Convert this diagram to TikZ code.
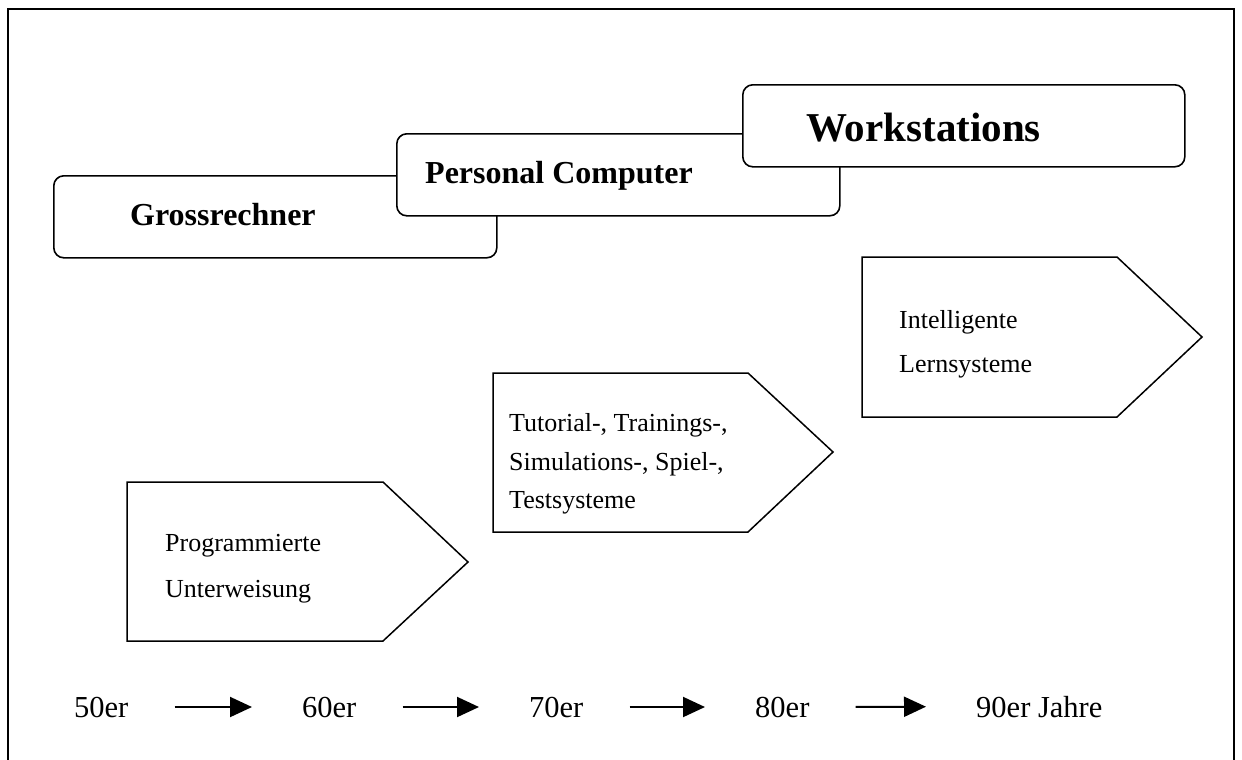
\documentclass[tikz,border=0pt]{standalone}
\usepackage{fontspec}
\setmainfont{Liberation Serif}
\usetikzlibrary{arrows.meta}

\begin{document}
\begin{tikzpicture}[
		x=1pt, y=-1pt,
		every node/.style={inner sep=0pt, anchor=base west},
		erabox/.style={draw, line width=1.6pt, rounded corners=10pt, fill=white,
			minimum width=443pt, minimum height=82pt, anchor=north west},
		era/.style={font=\fontsize{32}{38}\selectfont\bfseries},
		stepshape/.style={draw, line width=1.5pt, line join=miter},
		body/.style={font=\fontsize{26}{31}\selectfont},
		year/.style={font=\fontsize{30.5}{36}\selectfont},
		timearrow/.style={line width=2pt, -{Triangle[length=22pt, width=20pt]},
			shorten <=46pt, shorten >=50pt}
	]
  \useasboundingbox (0,0) rectangle (1242,760);
  \clip (0,0) rectangle (1242,760);
  \draw [line width=2pt] (8,9) rectangle (1234,800);

  % hardware
  \node (gross) [erabox] at (53,175) {};
  \node (gross_label) [era] at (130,225) {Grossrechner};
  \node (pc) [erabox] at (396,133) {};
  \node (pc_label) [era] at (425,183) {Personal Computer};
  \node (ws) [erabox, minimum width=442pt] at (742,84) {};
  \node (ws_label) [era, font=\fontsize{41}{48}\selectfont\bfseries] at (806,141) {Workstations};

  % software
  \draw [stepshape] (127,482) -- (383,482) -- (468,562) -- (383,641) -- (127,641) -- cycle;
  \node (prog_a) [body] at (165,551) {Programmierte};
  \node (prog_b) [body] at (165,597) {Unterweisung};
  \draw [stepshape] (493,373) -- (748,373) -- (833,452) -- (748,532) -- (493,532) -- cycle;
  \node (tut_a) [body] at (509,431) {Tutorial-, Trainings-,};
  \node (tut_b) [body] at (509,470) {Simulations-, Spiel-,};
  \node (tut_c) [body] at (509,508) {Testsysteme};
  \draw [stepshape] (862,257) -- (1117,257) -- (1202,337) -- (1117,417) -- (862,417) -- cycle;
  \node (ils_a) [body] at (899,328) {Intelligente};
  \node (ils_b) [body] at (899,372) {Lernsysteme};

  % time line
  \node (y50) [year] at (74,717) {50er};
  \node (y60) [year] at (302,717) {60er};
  \node (y70) [year] at (529,717) {70er};
  \node (y80) [year] at (755,717) {80er};
  \node (y90) [year] at (976,717) {90er Jahre};
  \draw [timearrow] (y50.east) -- (y60.west);
  \draw [timearrow] (y60.east) -- (y70.west);
  \draw [timearrow] (y70.east) -- (y80.west);
  \draw [timearrow] (y80.east) -- (y90.west);
\end{tikzpicture}
\end{document}
